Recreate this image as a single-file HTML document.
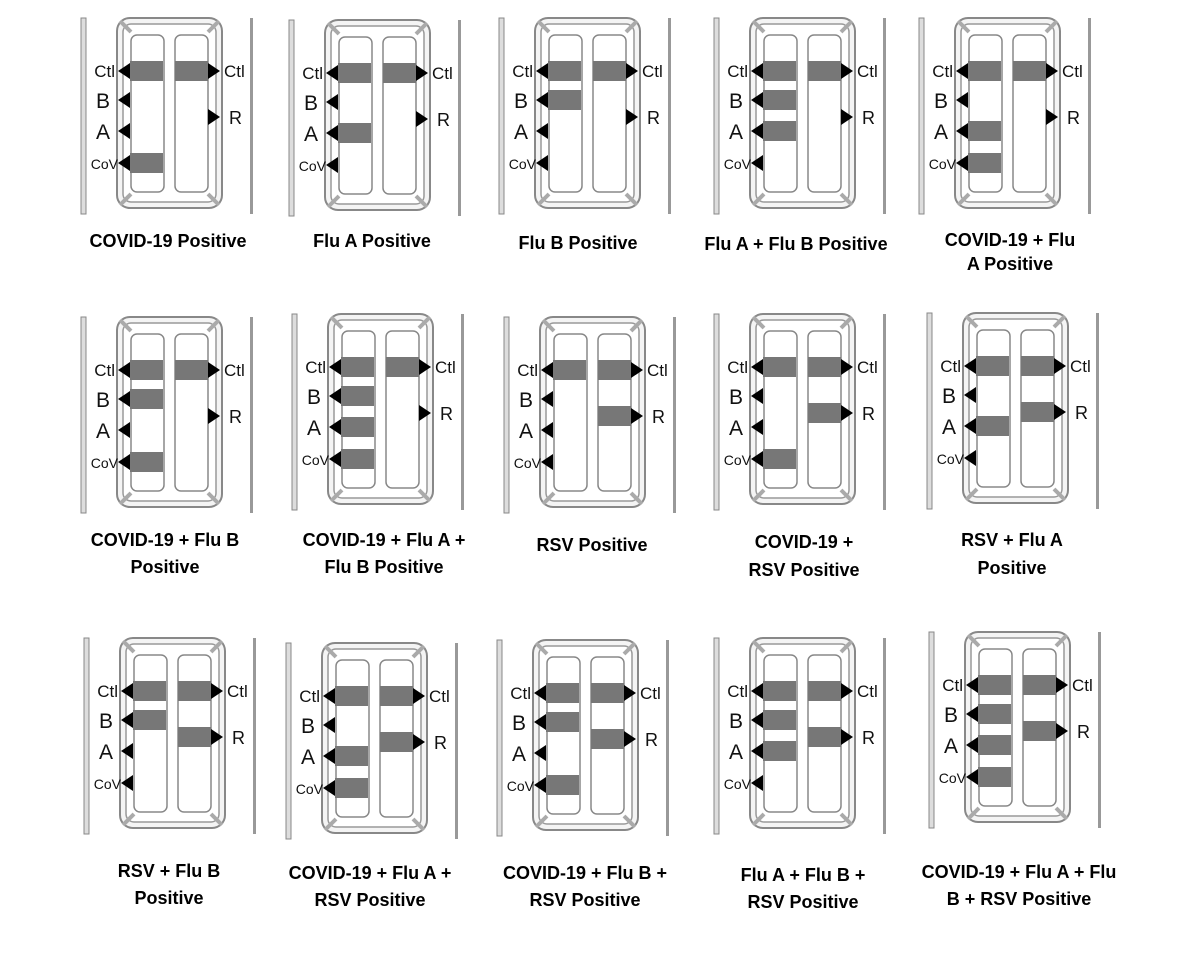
<!DOCTYPE html>
<html><head><meta charset="utf-8"><style>
html,body{margin:0;padding:0;background:#fff;}
svg{display:block;}
.c{font-family:"Liberation Sans",Arial,sans-serif;font-weight:bold;font-size:18px;fill:#000;text-anchor:middle;}
.l{font-family:"Liberation Sans",Arial,sans-serif;fill:#111;}
</style></head><body>
<svg width="1200" height="953" viewBox="0 0 1200 953" xmlns="http://www.w3.org/2000/svg">
<defs>
<g id="body">
  <rect x="-36" y="0" width="5" height="196" fill="#ddd" stroke="#888" stroke-width="1"/>
  <rect x="133" y="0" width="3" height="196" fill="#999"/>
  <rect x="0" y="0" width="105" height="190" rx="13" fill="#f4f4f4" stroke="#888" stroke-width="2"/>
  <rect x="6" y="6" width="93" height="178" rx="8" fill="#fff" stroke="#999" stroke-width="1.5"/>
  <line x1="3" y1="3" x2="14" y2="14" stroke="#aaa" stroke-width="4"/>
  <line x1="102" y1="3" x2="91" y2="14" stroke="#aaa" stroke-width="4"/>
  <line x1="3" y1="187" x2="14" y2="176" stroke="#aaa" stroke-width="4"/>
  <line x1="102" y1="187" x2="91" y2="176" stroke="#aaa" stroke-width="4"/>
  <rect x="14" y="17" width="33" height="157" rx="6" fill="#fff" stroke="#888" stroke-width="1.5"/>
  <rect x="58" y="17" width="33" height="157" rx="6" fill="#fff" stroke="#888" stroke-width="1.5"/>
</g>
<polygon id="la" points="1,0 13,-8 13,8" fill="#000"/>
<g id="lb"><rect x="13" y="-10" width="33" height="20" fill="#777"/><polygon points="1,0 13,-8 13,8" fill="#000"/></g>
<polygon id="ra" points="91,-8 103,0 91,8" fill="#000"/>
<g id="rb"><rect x="58" y="-10" width="33" height="20" fill="#777"/><polygon points="91,-8 103,0 91,8" fill="#000"/></g>
<g id="lab">
  <text class="l" x="-2" y="59" font-size="17" text-anchor="end">Ctl</text>
  <text class="l" x="-7" y="90" font-size="21" text-anchor="end">B</text>
  <text class="l" x="-7" y="121" font-size="21" text-anchor="end">A</text>
  <text class="l" x="1" y="151" font-size="14" text-anchor="end">CoV</text>
  <text class="l" x="107" y="59" font-size="17">Ctl</text>
  <text class="l" x="112" y="106" font-size="18">R</text>
</g>
</defs>

<!-- Row 1 -->
<g transform="translate(117,18)"><use href="#body"/><use href="#lb" y="53"/><use href="#la" y="82"/><use href="#la" y="113"/><use href="#lb" y="145"/><use href="#rb" y="53"/><use href="#ra" y="99"/><use href="#lab"/></g>
<g transform="translate(325,20)"><use href="#body"/><use href="#lb" y="53"/><use href="#la" y="82"/><use href="#lb" y="113"/><use href="#la" y="145"/><use href="#rb" y="53"/><use href="#ra" y="99"/><use href="#lab"/></g>
<g transform="translate(535,18)"><use href="#body"/><use href="#lb" y="53"/><use href="#lb" y="82"/><use href="#la" y="113"/><use href="#la" y="145"/><use href="#rb" y="53"/><use href="#ra" y="99"/><use href="#lab"/></g>
<g transform="translate(750,18)"><use href="#body"/><use href="#lb" y="53"/><use href="#lb" y="82"/><use href="#lb" y="113"/><use href="#la" y="145"/><use href="#rb" y="53"/><use href="#ra" y="99"/><use href="#lab"/></g>
<g transform="translate(955,18)"><use href="#body"/><use href="#lb" y="53"/><use href="#la" y="82"/><use href="#lb" y="113"/><use href="#lb" y="145"/><use href="#rb" y="53"/><use href="#ra" y="99"/><use href="#lab"/></g>

<!-- Row 2 -->
<g transform="translate(117,317)"><use href="#body"/><use href="#lb" y="53"/><use href="#lb" y="82"/><use href="#la" y="113"/><use href="#lb" y="145"/><use href="#rb" y="53"/><use href="#ra" y="99"/><use href="#lab"/></g>
<g transform="translate(328,314)"><use href="#body"/><use href="#lb" y="53"/><use href="#lb" y="82"/><use href="#lb" y="113"/><use href="#lb" y="145"/><use href="#rb" y="53"/><use href="#ra" y="99"/><use href="#lab"/></g>
<g transform="translate(540,317)"><use href="#body"/><use href="#lb" y="53"/><use href="#la" y="82"/><use href="#la" y="113"/><use href="#la" y="145"/><use href="#rb" y="53"/><use href="#rb" y="99"/><use href="#lab"/></g>
<g transform="translate(750,314)"><use href="#body"/><use href="#lb" y="53"/><use href="#la" y="82"/><use href="#la" y="113"/><use href="#lb" y="145"/><use href="#rb" y="53"/><use href="#rb" y="99"/><use href="#lab"/></g>
<g transform="translate(963,313)"><use href="#body"/><use href="#lb" y="53"/><use href="#la" y="82"/><use href="#lb" y="113"/><use href="#la" y="145"/><use href="#rb" y="53"/><use href="#rb" y="99"/><use href="#lab"/></g>

<!-- Row 3 -->
<g transform="translate(120,638)"><use href="#body"/><use href="#lb" y="53"/><use href="#lb" y="82"/><use href="#la" y="113"/><use href="#la" y="145"/><use href="#rb" y="53"/><use href="#rb" y="99"/><use href="#lab"/></g>
<g transform="translate(322,643)"><use href="#body"/><use href="#lb" y="53"/><use href="#la" y="82"/><use href="#lb" y="113"/><use href="#lb" y="145"/><use href="#rb" y="53"/><use href="#rb" y="99"/><use href="#lab"/></g>
<g transform="translate(533,640)"><use href="#body"/><use href="#lb" y="53"/><use href="#lb" y="82"/><use href="#la" y="113"/><use href="#lb" y="145"/><use href="#rb" y="53"/><use href="#rb" y="99"/><use href="#lab"/></g>
<g transform="translate(750,638)"><use href="#body"/><use href="#lb" y="53"/><use href="#lb" y="82"/><use href="#lb" y="113"/><use href="#la" y="145"/><use href="#rb" y="53"/><use href="#rb" y="99"/><use href="#lab"/></g>
<g transform="translate(965,632)"><use href="#body"/><use href="#lb" y="53"/><use href="#lb" y="82"/><use href="#lb" y="113"/><use href="#lb" y="145"/><use href="#rb" y="53"/><use href="#rb" y="99"/><use href="#lab"/></g>

<!-- Captions -->
<text class="c" x="168" y="247">COVID-19 Positive</text>
<text class="c" x="372" y="247">Flu A Positive</text>
<text class="c" x="578" y="249">Flu B Positive</text>
<text class="c" x="796" y="250">Flu A + Flu B Positive</text>
<text class="c" x="1010" y="246">COVID-19 + Flu</text>
<text class="c" x="1010" y="270">A Positive</text>

<text class="c" x="165" y="546">COVID-19 + Flu B</text>
<text class="c" x="165" y="573">Positive</text>
<text class="c" x="384" y="546">COVID-19 + Flu A +</text>
<text class="c" x="384" y="573">Flu B Positive</text>
<text class="c" x="592" y="551">RSV Positive</text>
<text class="c" x="804" y="548">COVID-19 +</text>
<text class="c" x="804" y="576">RSV Positive</text>
<text class="c" x="1012" y="546">RSV + Flu A</text>
<text class="c" x="1012" y="574">Positive</text>

<text class="c" x="169" y="877">RSV + Flu B</text>
<text class="c" x="169" y="904">Positive</text>
<text class="c" x="370" y="879">COVID-19 + Flu A +</text>
<text class="c" x="370" y="906">RSV Positive</text>
<text class="c" x="585" y="879">COVID-19 + Flu B +</text>
<text class="c" x="585" y="906">RSV Positive</text>
<text class="c" x="803" y="881">Flu A + Flu B +</text>
<text class="c" x="803" y="908">RSV Positive</text>
<text class="c" x="1019" y="878">COVID-19 + Flu A + Flu</text>
<text class="c" x="1019" y="905">B + RSV Positive</text>
</svg>
</body></html>
